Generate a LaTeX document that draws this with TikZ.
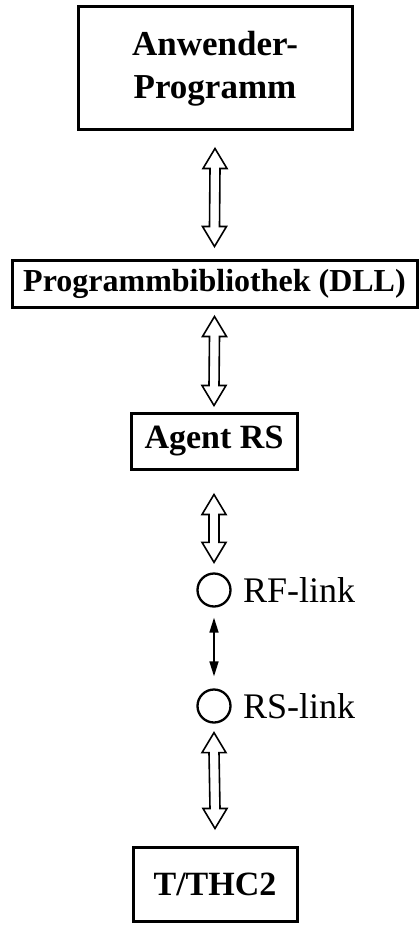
\documentclass[tikz,border=0pt]{standalone}
\usepackage{fontspec}
\setmainfont{Liberation Serif}
\usetikzlibrary{calc,arrows.meta}

% hollow two-headed arrow between two points (first one above the second)
\newcommand\hollowarrow[2]{%
  \draw[hollowline] let \p1=(#1), \p2=(#2) in
    (\x1,\y1) -- (\x1+12pt,\y1-20pt) -- (\x1+5pt,\y1-20pt) --
    (\x2+5pt,\y2+20pt) -- (\x2+12pt,\y2+20pt) -- (\x2,\y2) --
    (\x2-12pt,\y2+20pt) -- (\x2-5pt,\y2+20pt) --
    (\x1-5pt,\y1-20pt) -- (\x1-12pt,\y1-20pt) -- cycle;}

\begin{document}
\begin{tikzpicture}[x=1pt,y=-1pt,
  box/.style={draw,line width=3pt,inner sep=0pt,align=center,font=\bfseries},
  hollowline/.style={draw,line width=1.6pt,line join=miter,fill=white},
  link/.style={draw,circle,line width=2.3pt,minimum size=33pt,inner sep=0pt},
  linklabel/.style={anchor=base west,inner sep=0pt,font=\fontsize{36}{42}\selectfont},
  thin/.style={line width=1.6pt,{Triangle[length=15pt,width=9pt]}-{Triangle[length=15pt,width=9pt]}}]
  \useasboundingbox (0,0) rectangle (419,925);

  % boxes
  \node[box,minimum width=274pt,minimum height=123pt,
        font=\bfseries\fontsize{35}{43}\selectfont] (prog) at (215,68.5) {Anwender-\\Programm};
  \node[box,minimum width=405pt,minimum height=47pt,
        font=\bfseries\fontsize{32}{38}\selectfont] (dll) at (214.5,283.5) {Programmbibliothek (DLL)};
  \node[box,minimum width=166pt,minimum height=56pt,
        font=\bfseries\fontsize{34}{40}\selectfont] (agent) at (214,441) {Agent RS};
  \node[box,minimum width=164pt,minimum height=74pt,
        font=\bfseries\fontsize{34}{40}\selectfont] (thc) at (215,884) {T/THC2};

  % link points
  \node[link] (rf) at (214,590) {};
  \node[link] (rs) at (214,706) {};
  \node[linklabel] (rflabel) at (243,602) {RF-link};
  \node[linklabel] (rslabel) at (243,718) {RS-link};

  % connectors
  \hollowarrow{$(prog.south)+(0,17)$}{$(dll.north)+(0,-12)$}
  \hollowarrow{$(dll.south)+(0,8)$}{$(agent.north)+(0,-6)$}
  \hollowarrow{$(agent.south)+(0,24)$}{$(rf.north)+(0,-10)$}
  \draw[thin] ($(rf.south)+(0,10)$) -- ($(rs.north)+(0,-12)$);
  \hollowarrow{$(rs.south)+(0,9)$}{$(thc.north)+(0,-17)$}
\end{tikzpicture}
\end{document}
